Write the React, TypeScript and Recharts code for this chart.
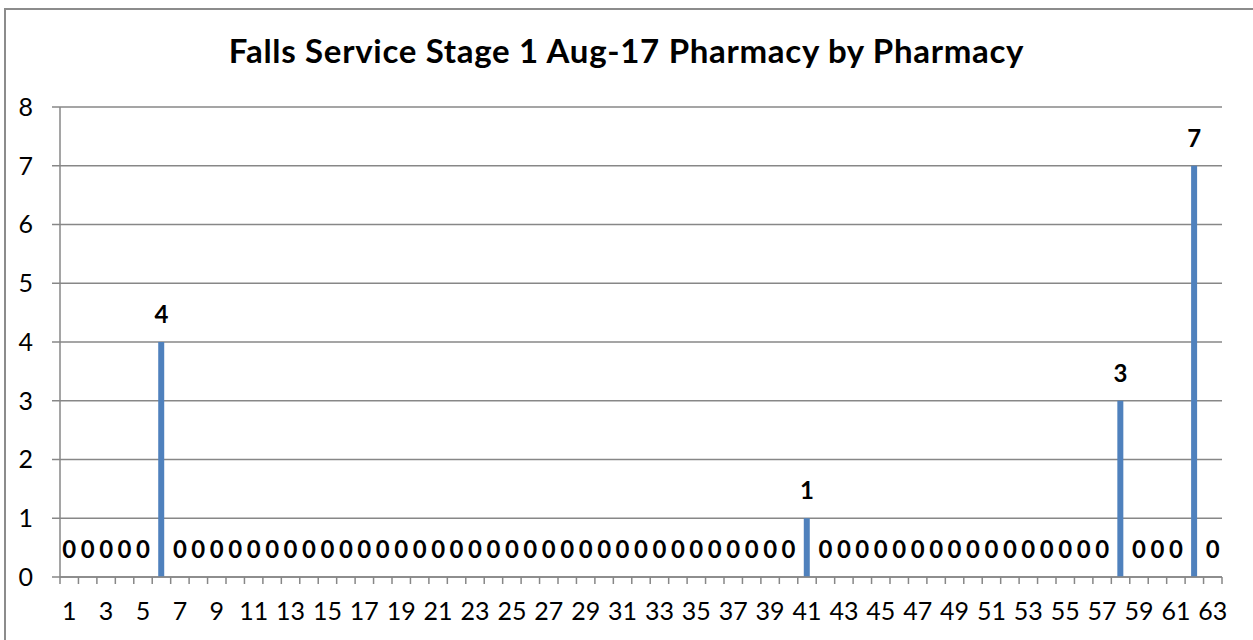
import React from 'react';
import { ComposedChart, Bar, Line, XAxis, YAxis, CartesianGrid, LabelList } from 'recharts';

// pharmacy numbers 1..63
const pharmacies: number[] = [
    1, 2, 3, 4, 5, 6, 7, 8, 9, 10, 11, 12, 13, 14, 15, 16, 17, 18, 19, 20, 21,
    22, 23, 24, 25, 26, 27, 28, 29, 30, 31, 32, 33, 34, 35, 36, 37, 38, 39, 40, 41, 42,
    43, 44, 45, 46, 47, 48, 49, 50, 51, 52, 53, 54, 55, 56, 57, 58, 59, 60, 61, 62, 63
];
const falls: number[] = [
    0, 0, 0, 0, 0, 4, 0, 0, 0, 0, 0, 0, 0, 0, 0, 0, 0, 0, 0, 0, 0,
    0, 0, 0, 0, 0, 0, 0, 0, 0, 0, 0, 0, 0, 0, 0, 0, 0, 0, 0, 1, 0,
    0, 0, 0, 0, 0, 0, 0, 0, 0, 0, 0, 0, 0, 0, 0, 3, 0, 0, 0, 7, 0
];
const yTicks: number[] = [0, 1, 2, 3, 4, 5, 6, 7, 8];
const title = 'Falls Service Stage 1 Aug-17 Pharmacy by Pharmacy';

const data = pharmacies.map((p, i) => ({ pharmacy: p, falls: falls[i] }));

const W = 1253;
const H = 640;
const LEFT = 60;
const RIGHT = 31;
const PLOT_W = W - LEFT - RIGHT;
const FONT = 'Lato, Carlito, Calibri, sans-serif';
const AXIS = '#878787';

const XTick = (props: any) => {
    const { x, y, payload, index } = props;
    const step = PLOT_W / pharmacies.length;
    const left = x - step / 2;
    return (
        <g>
            <line x1={left} x2={left} y1={y} y2={y + 7} stroke={AXIS} strokeWidth={1.5} />
            {index === pharmacies.length - 1 && (
                <line x1={x + step / 2} x2={x + step / 2} y1={y} y2={y + 7} stroke={AXIS} strokeWidth={1.5} />
            )}
            {payload.value % 2 === 1 && (
                <text x={x} y={y + 43} textAnchor="middle" fontSize={25} fontFamily={FONT} fill="#000">
                    {payload.value}
                </text>
            )}
        </g>
    );
};

export default function App() {
    return (
        <div style={{ position: 'absolute', left: 0, top: 0, width: W, height: H, background: '#fff', overflow: 'hidden' }}>
            <div style={{
                position: 'absolute', left: 4, top: 8, width: W - 6, height: H,
                borderLeft: '2px solid #8c8c8c', borderTop: '2px solid #8c8c8c', borderRight: '1px solid #d4d4d4'
            }} />
            <div style={{
                position: 'absolute', left: 0, top: 30, width: W, textAlign: 'center',
                fontFamily: FONT, fontWeight: 'bold', fontSize: 33, letterSpacing: 0.7, color: '#000'
            }}>
                {title}
            </div>
            <div style={{ position: 'absolute', left: 0, top: 0 }}>
                <ComposedChart
                    width={W}
                    height={H}
                    data={data}
                    margin={{ top: 107, right: RIGHT, left: 0, bottom: 23 }}>
                    <CartesianGrid vertical={false} stroke={AXIS} strokeWidth={1.5} />
                    <XAxis
                        dataKey="pharmacy"
                        interval={0}
                        height={40}
                        tickSize={0}
                        tickMargin={0}
                        tickLine={false}
                        stroke={AXIS}
                        strokeWidth={1.5}
                        tick={<XTick />}
                    />
                    <YAxis
                        width={LEFT}
                        domain={[0, 8]}
                        ticks={yTicks}
                        tickSize={8}
                        tickMargin={19}
                        stroke={AXIS}
                        strokeWidth={1.5}
                        tick={{ fill: '#000', fontSize: 25, fontFamily: FONT }}
                    />
                    <Bar dataKey="falls" fill="#4F81BD" barSize={6} isAnimationActive={false} />
                    {/* invisible series, just carries the value labels (zeros included) */}
                    <Line dataKey="falls" stroke="none" dot={false} activeDot={false} legendType="none" isAnimationActive={false}>
                        <LabelList dataKey="falls" position="top" offset={19} fill="#000" fontSize={24} fontWeight="bold" fontFamily={FONT} />
                    </Line>
                </ComposedChart>
            </div>
        </div>
    );
}
